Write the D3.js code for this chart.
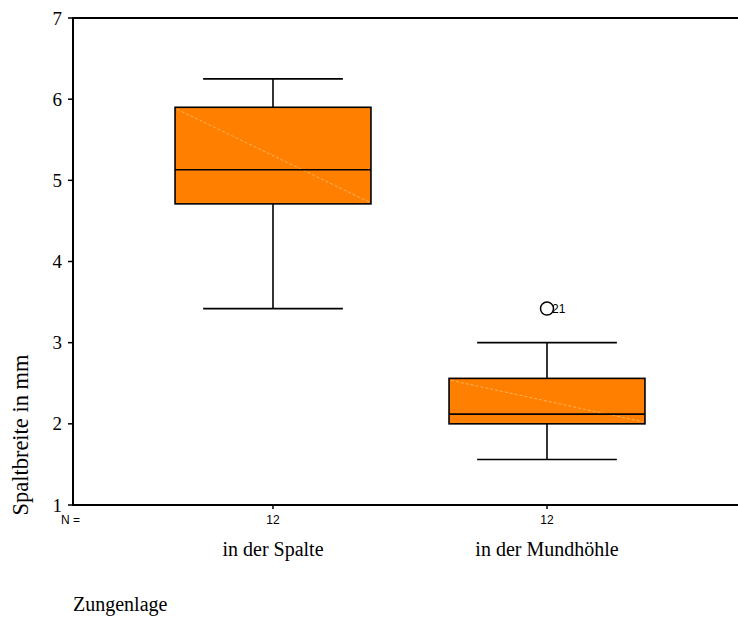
<!DOCTYPE html>
<meta charset="utf-8">
<head>
    <title>Spaltbreite Boxplot</title>
    <script type="text/javascript" src="https://cdn.jsdelivr.net/npm/d3@7"></script>
    <style>
        html, body {
            margin: 0;
            padding: 0;
            background: white;
        }
        .serif { font-family: "Liberation Serif", "Times New Roman", serif; fill: #000; }
        .sans { font-family: "Liberation Sans", Arial, sans-serif; fill: #000; }
    </style>
</head>
<body>
    <svg id="chart"></svg>
    <script>
        // data
        var categories = ["in der Spalte", "in der Mundhöhle"];
        var whiskerLow = [3.42, 1.56];
        var q1 = [4.71, 2.0];
        var median = [5.13, 2.12];
        var q3 = [5.9, 2.56];
        var whiskerHigh = [6.25, 3.0];
        var counts = [12, 12];
        var outliers = [{cat: "in der Mundhöhle", value: 3.42, label: "21"}];
        var yTicks = [1, 2, 3, 4, 5, 6, 7];

        var width = 738, height = 619;
        var margin = {top: 18, right: 0, bottom: 114, left: 73};

        var svg = d3.select("#chart")
            .attr("width", width)
            .attr("height", height);

        var y = d3.scaleLinear()
            .domain([1, 7])
            .range([height - margin.bottom, margin.top]);

        var x = d3.scaleBand()
            .domain(categories)
            .range([136, 684])
            .padding(0);

        var boxW = x.bandwidth() * 0.715;
        var capW = x.bandwidth() * 0.51;

        // boxes
        var boxes = svg.append("g").attr("id", "boxes");
        categories.forEach(function(c, i) {
            var cx = x(c) + x.bandwidth() / 2;
            var g = boxes.append("g");
            // whiskers
            g.append("line")
                .attr("x1", cx).attr("x2", cx)
                .attr("y1", y(q3[i])).attr("y2", y(whiskerHigh[i]))
                .attr("stroke", "#000").attr("stroke-width", 1.6);
            g.append("line")
                .attr("x1", cx).attr("x2", cx)
                .attr("y1", y(q1[i])).attr("y2", y(whiskerLow[i]))
                .attr("stroke", "#000").attr("stroke-width", 1.6);
            g.append("line")
                .attr("x1", cx - capW / 2).attr("x2", cx + capW / 2)
                .attr("y1", y(whiskerHigh[i])).attr("y2", y(whiskerHigh[i]))
                .attr("stroke", "#000").attr("stroke-width", 1.6);
            g.append("line")
                .attr("x1", cx - capW / 2).attr("x2", cx + capW / 2)
                .attr("y1", y(whiskerLow[i])).attr("y2", y(whiskerLow[i]))
                .attr("stroke", "#000").attr("stroke-width", 1.6);
            // box
            g.append("rect")
                .attr("x", cx - boxW / 2)
                .attr("y", y(q3[i]))
                .attr("width", boxW)
                .attr("height", y(q1[i]) - y(q3[i]))
                .attr("fill", "#ff8000")
                .attr("stroke", "#000")
                .attr("stroke-width", 1.6);
            // faint diagonal artefact
            g.append("line")
                .attr("x1", cx - boxW / 2 + 2).attr("y1", y(q3[i]) + 2)
                .attr("x2", cx + boxW / 2 - 2).attr("y2", y(q1[i]) - 2)
                .attr("stroke", "#ffb060")
                .attr("stroke-width", 1)
                .attr("stroke-dasharray", "3,2");
            // median
            g.append("line")
                .attr("x1", cx - boxW / 2).attr("x2", cx + boxW / 2)
                .attr("y1", y(median[i])).attr("y2", y(median[i]))
                .attr("stroke", "#000").attr("stroke-width", 1.6);
        });

        // outliers
        outliers.forEach(function(o) {
            var cx = x(o.cat) + x.bandwidth() / 2;
            svg.append("circle")
                .attr("cx", cx).attr("cy", y(o.value))
                .attr("r", 6.5)
                .attr("fill", "none")
                .attr("stroke", "#000")
                .attr("stroke-width", 1.5);
            svg.append("text")
                .attr("class", "sans")
                .attr("x", cx + 5).attr("y", y(o.value) + 4.5)
                .attr("font-size", 12)
                .text(o.label);
        });

        // frame: left, top, bottom
        var x0 = margin.left, x1 = width;
        var yTop = y(7), yBot = y(1);
        svg.append("line").attr("x1", x0).attr("x2", x0).attr("y1", yTop - 1).attr("y2", yBot + 1)
            .attr("stroke", "#000").attr("stroke-width", 2);
        svg.append("line").attr("x1", x0).attr("x2", x1).attr("y1", yTop).attr("y2", yTop)
            .attr("stroke", "#000").attr("stroke-width", 2);
        svg.append("line").attr("x1", x0).attr("x2", x1).attr("y1", yBot).attr("y2", yBot)
            .attr("stroke", "#000").attr("stroke-width", 2);

        // y ticks
        var yAxis = svg.append("g").attr("id", "yaxis");
        yTicks.forEach(function(t) {
            yAxis.append("line")
                .attr("x1", x0 - 5).attr("x2", x0)
                .attr("y1", y(t)).attr("y2", y(t))
                .attr("stroke", "#000").attr("stroke-width", 1.5);
            yAxis.append("text")
                .attr("class", "serif")
                .attr("x", x0 - 11).attr("y", y(t) + 6.5)
                .attr("text-anchor", "end")
                .attr("font-size", 19)
                .text(t);
        });

        // x ticks and N
        categories.forEach(function(c, i) {
            var cx = x(c) + x.bandwidth() / 2;
            svg.append("line")
                .attr("x1", cx).attr("x2", cx)
                .attr("y1", yBot).attr("y2", yBot + 4)
                .attr("stroke", "#000").attr("stroke-width", 1.5);
            svg.append("text")
                .attr("class", "sans")
                .attr("x", cx).attr("y", yBot + 19)
                .attr("text-anchor", "middle")
                .attr("font-size", 12)
                .text(counts[i]);
            svg.append("text")
                .attr("class", "serif")
                .attr("x", cx).attr("y", yBot + 51)
                .attr("text-anchor", "middle")
                .attr("font-size", 20)
                .text(c);
        });

        svg.append("text")
            .attr("class", "sans")
            .attr("x", 61).attr("y", yBot + 19)
            .attr("font-size", 12)
            .text("N =");

        // axis titles
        svg.append("text")
            .attr("class", "serif")
            .attr("transform", "translate(28,435) rotate(-90)")
            .attr("text-anchor", "middle")
            .attr("font-size", 22.5)
            .text("Spaltbreite in mm");

        svg.append("text")
            .attr("class", "serif")
            .attr("x", 73).attr("y", 611)
            .attr("font-size", 20)
            .text("Zungenlage");
    </script>
</body>
</html>
